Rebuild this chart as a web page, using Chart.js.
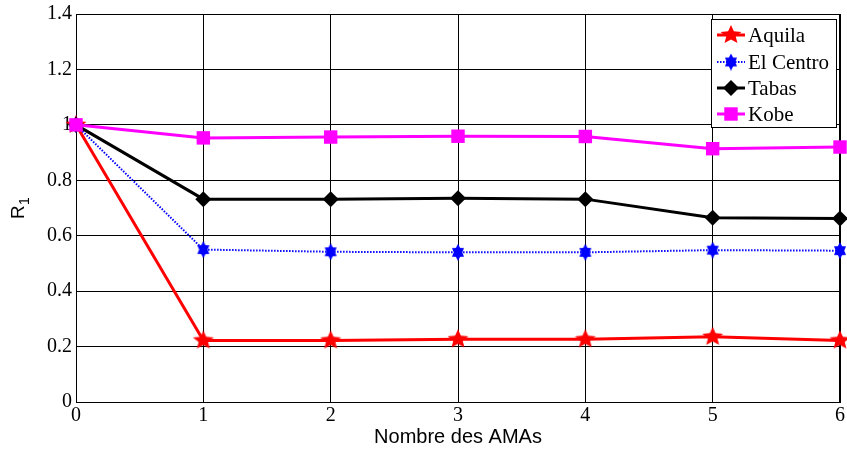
<!DOCTYPE html>
<html>
<head>
<meta charset="utf-8">
<script src="https://cdn.jsdelivr.net/npm/chart.js@4/dist/chart.umd.min.js"></script>
<style>
  html, body { margin: 0; padding: 0; background: #fff; }
  canvas { display: block; }
</style>
</head>
<body>
<canvas id="chart" width="847" height="452"></canvas>
<script>
// data
const amas = [0, 1, 2, 3, 4, 5, 6];
const aquila = [1, 0.222, 0.222, 0.226, 0.226, 0.235, 0.222];
const elCentro = [1, 0.55, 0.542, 0.54, 0.54, 0.548, 0.546];
const tabas = [1, 0.732, 0.732, 0.735, 0.732, 0.665, 0.662];
const kobe = [1, 0.953, 0.956, 0.959, 0.958, 0.914, 0.92];
const yTicks = [0, 0.2, 0.4, 0.6, 0.8, 1, 1.2, 1.4];

const serif = "'Liberation Serif', 'Times New Roman', serif";
const sans = "'Liberation Sans', Arial, sans-serif";

// marker images
function starMarker(color, points, w, h, innerRatio) {
  const c = document.createElement("canvas");
  c.width = w; c.height = h;
  const ctx = c.getContext("2d");
  const cx = w / 2, cy = h / 2;
  ctx.beginPath();
  for (let i = 0; i < points * 2; i++) {
    const a = -Math.PI / 2 + i * Math.PI / points;
    const r = i % 2 === 0 ? 1 : innerRatio;
    const x = cx + Math.cos(a) * r * (w / 2);
    const y = cy + Math.sin(a) * r * (h / 2);
    i === 0 ? ctx.moveTo(x, y) : ctx.lineTo(x, y);
  }
  ctx.closePath();
  ctx.fillStyle = color;
  ctx.fill();
  return c;
}

const pentagram = starMarker("#ff0000", 5, 22, 20, 0.45);
const hexagram = starMarker("#0000ff", 6, 14, 17, 0.6);

const pts = arr => arr.map((v, i) => ({ x: amas[i], y: v }));

const datasets = [
  { label: "Aquila", data: pts(aquila), borderColor: "#ff0000", backgroundColor: "#ff0000",
    borderWidth: 3, pointStyle: pentagram, order: 3 },
  { label: "El Centro", data: pts(elCentro), borderColor: "#0000ff", backgroundColor: "#0000ff",
    borderWidth: 2, borderDash: [1.5, 1.5], pointStyle: hexagram, order: 2 },
  { label: "Tabas", data: pts(tabas), borderColor: "#000000", backgroundColor: "#000000",
    borderWidth: 3, pointStyle: "rectRot", pointRadius: 8, order: 1 },
  { label: "Kobe", data: pts(kobe), borderColor: "#ff00ff", backgroundColor: "#ff00ff",
    borderWidth: 3, pointStyle: "rect", pointRadius: 9.5, order: 0 }
];
datasets.forEach(d => {
  d.tension = 0;
  d.fill = false;
  d.clip = 12;
  d.pointBorderWidth = 0;
  if (!d.pointRadius) d.pointRadius = 10;
});

// box top/right edge, legend inside the plot, y title with subscript
const extras = {
  id: "extras",
  beforeDatasetsDraw(chart) {
    const { ctx, chartArea: a } = chart;
    ctx.save();
    ctx.strokeStyle = "#000";
    ctx.lineWidth = 1;
    ctx.beginPath();
    ctx.moveTo(a.left, Math.round(a.top) + 0.5);
    ctx.lineTo(a.right, Math.round(a.top) + 0.5);
    ctx.moveTo(Math.round(a.right) - 0.5, a.top);
    ctx.lineTo(Math.round(a.right) - 0.5, a.bottom);
    ctx.stroke();
    ctx.restore();
  },
  afterDraw(chart) {
    const ctx = chart.ctx;
    ctx.save();

    // y axis title R_1
    ctx.translate(24, 212);
    ctx.rotate(-Math.PI / 2);
    ctx.fillStyle = "#000";
    ctx.font = "19px " + sans;
    ctx.textBaseline = "alphabetic";
    ctx.textAlign = "left";
    ctx.fillText("R", -7, 0);
    ctx.font = "14px " + sans;
    ctx.fillText("1", 7, 5);
    ctx.restore();

    // legend
    ctx.save();
    const bx = 711, by = 19, bw = 125, bh = 108;
    ctx.fillStyle = "#fff";
    ctx.fillRect(bx, by, bw, bh);
    ctx.strokeStyle = "#000";
    ctx.lineWidth = 1;
    ctx.strokeRect(bx + 0.5, by + 0.5, bw, bh);
    const rows = [35, 62, 88, 114];
    datasets.forEach((d, i) => {
      const y = rows[i];
      ctx.strokeStyle = d.borderColor;
      ctx.lineWidth = d.borderWidth;
      ctx.setLineDash(d.borderDash || []);
      ctx.beginPath();
      ctx.moveTo(717, y);
      ctx.lineTo(745, y);
      ctx.stroke();
      ctx.setLineDash([]);
      ctx.fillStyle = d.backgroundColor;
      Chart.helpers.drawPoint(ctx, {
        pointStyle: d.pointStyle, radius: d.pointRadius, rotation: 0, borderWidth: 0
      }, 731, y);
      ctx.fillStyle = "#000";
      ctx.font = "21px " + serif;
      ctx.textBaseline = "middle";
      ctx.textAlign = "left";
      ctx.fillText(d.label, 748, y + 1);
    });
    ctx.restore();
  }
};

new Chart(document.getElementById("chart"), {
  type: "line",
  data: { datasets },
  plugins: [extras],
  options: {
    responsive: false,
    animation: false,
    layout: { autoPadding: false, padding: { left: 0, top: 14, right: 7, bottom: 0 } },
    plugins: { legend: { display: false }, tooltip: { enabled: false } },
    scales: {
      x: {
        type: "linear",
        min: 0, max: 6,
        afterFit: s => { s.height = 50; s.paddingLeft = 0; s.paddingRight = 0; },
        afterBuildTicks: s => { s.ticks = amas.map(v => ({ value: v })); },
        ticks: { font: { family: serif, size: 20 }, color: "#000", padding: 2, maxRotation: 0 },
        grid: { color: "#000", lineWidth: 1, drawTicks: false },
        border: { color: "#000", width: 1 },
        title: {
          display: true, text: "Nombre des AMAs",
          font: { family: sans, size: 20 }, color: "#000", padding: { top: 0, bottom: 3 }
        }
      },
      y: {
        min: 0, max: 1.4,
        afterFit: s => { s.width = 76; s.paddingTop = 0; s.paddingBottom = 0; },
        afterBuildTicks: s => { s.ticks = yTicks.map(v => ({ value: v })); },
        ticks: {
          font: { family: serif, size: 20 }, color: "#000", padding: 4,
          callback: v => String(Number(v.toFixed(1)))
        },
        grid: { color: "#000", lineWidth: 1, drawTicks: false },
        border: { color: "#000", width: 1 }
      }
    }
  }
});
</script>
</body>
</html>
